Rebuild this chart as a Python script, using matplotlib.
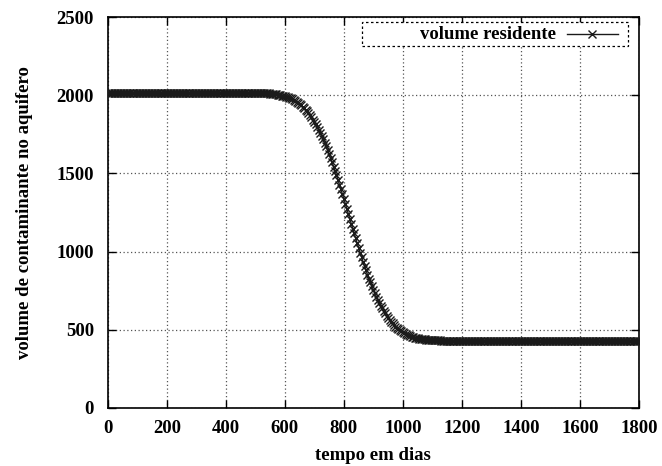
import matplotlib
matplotlib.use("Agg")
import matplotlib.pyplot as plt
from matplotlib.lines import Line2D
from matplotlib.patches import Rectangle

# tempo (dias), passo de 5 dias
dias = list(range(0, 1805, 5))

# volume residente de contaminante no aquifero, um valor por passo
volume = [
    # 0 .. 95
    2016, 2016, 2016, 2016, 2016, 2016, 2016, 2016, 2016, 2016,
    2016, 2016, 2016, 2016, 2016, 2016, 2016, 2016, 2016, 2016,
    # 100 .. 195
    2016, 2016, 2016, 2016, 2016, 2016, 2016, 2016, 2016, 2016,
    2016, 2016, 2016, 2016, 2016, 2016, 2016, 2016, 2016, 2016,
    # 200 .. 295
    2016, 2016, 2016, 2016, 2016, 2016, 2016, 2016, 2016, 2016,
    2016, 2016, 2016, 2016, 2016, 2016, 2016, 2016, 2016, 2016,
    # 300 .. 395
    2016, 2016, 2016, 2016, 2016, 2016, 2016, 2016, 2016, 2016,
    2016, 2016, 2016, 2016, 2016, 2016, 2016, 2016, 2016, 2016,
    # 400 .. 495
    2016, 2016, 2016, 2016, 2016, 2016, 2016, 2016, 2016, 2016,
    2016, 2016, 2016, 2016, 2016, 2016, 2016, 2015, 2015, 2015,
    # 500 .. 595
    2015, 2015, 2015, 2015, 2014, 2013, 2013, 2012, 2012, 2011,
    2010, 2009, 2008, 2007, 2006, 2004, 2003, 2001, 1998, 1996,
    # 600 .. 695
    1993, 1990, 1987, 1983, 1979, 1974, 1969, 1964, 1957, 1951,
    1943, 1935, 1927, 1917, 1907, 1896, 1884, 1872, 1858, 1844,
    # 700 .. 795
    1829, 1813, 1796, 1777, 1758, 1738, 1717, 1695, 1672, 1648,
    1624, 1598, 1572, 1544, 1517, 1488, 1459, 1429, 1399, 1368,
    # 800 .. 895
    1337, 1305, 1274, 1242, 1210, 1179, 1147, 1116, 1084, 1054,
    1023, 993, 964, 935, 907, 880, 853, 827, 803, 778,
    # 900 .. 995
    755, 733, 712, 692, 672, 654, 637, 620, 605, 590,
    577, 564, 552, 541, 531, 521, 512, 504, 497, 490,
    # 1000 .. 1095
    484, 478, 473, 468, 464, 460, 456, 453, 450, 448,
    446, 444, 442, 440, 439, 438, 437, 436, 435, 434,
    # 1100 .. 1195
    434, 433, 433, 432, 432, 432, 431, 431, 431, 431,
    431, 431, 430, 430, 430, 430, 430, 430, 430, 430,
    # 1200 .. 1295
    430, 430, 430, 430, 430, 430, 430, 430, 430, 430,
    430, 430, 430, 430, 430, 430, 430, 430, 430, 430,
    # 1300 .. 1395
    430, 430, 430, 430, 430, 430, 430, 430, 430, 430,
    430, 430, 430, 430, 430, 430, 430, 430, 430, 430,
    # 1400 .. 1495
    430, 430, 430, 430, 430, 430, 430, 430, 430, 430,
    430, 430, 430, 430, 430, 430, 430, 430, 430, 430,
    # 1500 .. 1595
    430, 430, 430, 430, 430, 430, 430, 430, 430, 430,
    430, 430, 430, 430, 430, 430, 430, 430, 430, 430,
    # 1600 .. 1695
    430, 430, 430, 430, 430, 430, 430, 430, 430, 430,
    430, 430, 430, 430, 430, 430, 430, 430, 430, 430,
    # 1700 .. 1800
    430, 430, 430, 430, 430, 430, 430, 430, 430, 430,
    430, 430, 430, 430, 430, 430, 430, 430, 430, 430,
    430,
]

x_ticks = [0, 200, 400, 600, 800, 1000, 1200, 1400, 1600, 1800]
y_ticks = [0, 500, 1000, 1500, 2000, 2500]

plt.rcParams["font.family"] = ["Liberation Serif", "DejaVu Serif"]
plt.rcParams["font.weight"] = "bold"
FS = 13.5
CURVE = "#1a1a1a"

fig = plt.figure(figsize=(6.62, 4.66), dpi=100)
ax = fig.add_axes([0.163, 0.1245, 0.802, 0.839])

ax.plot(dias, volume, "-x", color=CURVE, lw=1.0, ms=6, mew=1.0, zorder=3)

ax.set_xlim(0, 1800)
ax.set_ylim(0, 2500)
ax.set_xticks(x_ticks)
ax.set_yticks(y_ticks)
ax.tick_params(direction="in", top=True, right=True, length=6, width=1,
               labelsize=FS, colors="black")
ax.tick_params(axis="x", pad=9)
ax.tick_params(axis="y", pad=10)
for lab in ax.get_xticklabels() + ax.get_yticklabels():
    lab.set_fontweight("bold")
for s in ax.spines.values():
    s.set_linewidth(1.2)

ax.grid(True, linestyle=(0, (1, 2)), color="#555555", lw=0.9, zorder=0)

ax.set_xlabel("tempo em dias", fontsize=FS, fontweight="bold", labelpad=7)
ax.set_ylabel("volume de contaminante no aquifero", fontsize=FS,
              fontweight="bold", labelpad=17)

# chave no estilo gnuplot: texto a esquerda, amostra da linha a direita
ax.add_patch(Rectangle((0.478, 0.926), 0.501, 0.061, transform=ax.transAxes,
                       facecolor="white", edgecolor="black", lw=0.9,
                       linestyle=(0, (2, 2)), zorder=5))
ax.text(0.844, 0.9565, "volume residente", transform=ax.transAxes,
        ha="right", va="center", fontsize=FS, fontweight="bold", zorder=6)
ax.add_line(Line2D([0.864, 0.960], [0.9565, 0.9565], transform=ax.transAxes,
                   color=CURVE, lw=1.0, zorder=6))
ax.add_line(Line2D([0.912], [0.9565], transform=ax.transAxes, marker="x",
                   ms=6, mew=1.0, color=CURVE, zorder=6))

fig.savefig("out.png", dpi=100, facecolor="white")
